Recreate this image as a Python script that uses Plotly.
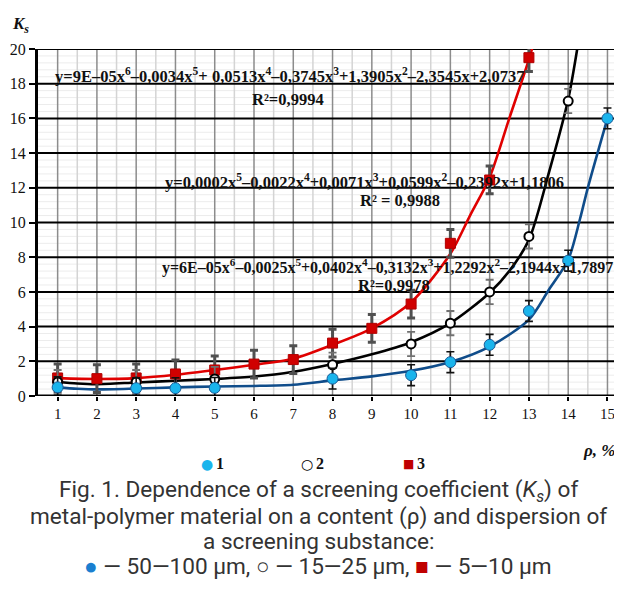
import plotly.graph_objects as go

# ---- data: measured points ----
x_vals = list(range(1, 16))
# series 1: 50-100 um (blue); None where no marker is visible
ks1 = [0.5, None, 0.45, 0.45, 0.47, None, None, 1.0, None, 1.2, 1.95, 2.95, 4.9, 7.8, 16.0]
err1 = [0.6] * 15
# series 2: 15-25 um (black open circles)
ks2 = [0.8, None, 0.8, None, 0.98, None, None, 1.8, None, 3.0, 4.2, 6.0, 9.2, 17.0, None]
err2 = [0.7] * 15
# series 3: 5-10 um (red squares)
ks3 = [1.04, 1.0, 1.04, 1.27, 1.5, 1.84, 2.1, 3.05, 3.9, 5.3, 8.8, 12.45, 19.5, None, None]
err3 = [0.8] * 15

# ---- trend curves, values ----
t1_x = [1, 1.5, 2, 3, 4, 5, 6, 7, 8, 9, 10, 11, 12, 13, 13.5, 14, 14.3, 14.5, 15]
t1_y = [0.5, 0.42, 0.38, 0.43, 0.5, 0.55, 0.58, 0.65, 0.9, 1.13, 1.45, 1.96, 2.85, 4.4, 6.1, 7.85, 10.2, 12.0, 16.0]
t2_x = [1, 1.5, 2, 3, 4, 5, 6, 7, 8, 9, 10, 11, 12, 12.5, 13, 13.5, 14, 14.3]
t2_y = [0.82, 0.72, 0.68, 0.78, 0.88, 0.98, 1.12, 1.4, 1.85, 2.4, 3.1, 4.2, 5.95, 7.2, 9.0, 12.8, 17.1, 21.0]
t3_x = [1, 2, 3, 4, 5, 6, 7, 8, 9, 10, 11, 11.5, 12, 12.5, 13, 13.2]
t3_y = [1.03, 0.98, 1.03, 1.22, 1.5, 1.8, 2.15, 2.95, 3.9, 5.4, 8.2, 10.4, 12.6, 16.0, 19.4, 21.0]

eq1 = "y=6E–05x<sup>6</sup>–0,0025x<sup>5</sup>+0,0402x<sup>4</sup>–0,3132x<sup>3</sup>+1,2292x<sup>2</sup>–2,1944x+1,7897"
r1 = "R²=0,9978"
eq2 = "y=0,0002x<sup>5</sup>–0,0022x<sup>4</sup>+0,0071x<sup>3</sup>+0,0599x<sup>2</sup>–0,2392x+1,1806"
r2 = "R² = 0,9988"
eq3 = "y=9E–05x<sup>6</sup>–0,0034x<sup>5</sup>+ 0,0513x<sup>4</sup>–0,3745x<sup>3</sup>+1,3905x<sup>2</sup>–2,3545x+2,0737"
r3 = "R²=0,9994"

# page body adds an 8px offset; work in screen pixels and subtract it
OFF = 8
W, H = 622 - OFF, 592 - OFF
PL, PR, PT, PB = 38, 622, 49, 396          # plot area in screen pixels
ML, MR, MT, MB = PL - OFF, 622 - PR, PT - OFF, 592 - PB

fig = go.Figure()

for tx, ty, color in [(t1_x, t1_y, "#0f4c8a"), (t2_x, t2_y, "#000000"), (t3_x, t3_y, "#e00000")]:
    fig.add_trace(go.Scatter(x=tx, y=ty, mode="lines", line=dict(color=color, width=2.6, shape="spline", smoothing=0.8),
                             showlegend=False, hoverinfo="skip"))

def pts(vals, errs):
    xs = [x for x, v in zip(x_vals, vals) if v is not None]
    ys = [v for v in vals if v is not None]
    es = [e for e, v in zip(errs, vals) if v is not None]
    return xs, ys, es

xs, ys, es = pts(ks3, err3)
fig.add_trace(go.Scatter(x=xs, y=ys, mode="markers",
                         marker=dict(symbol="square", size=10, color="#d00000", line=dict(color="#b00000", width=1)),
                         error_y=dict(type="data", array=es, color="#505050", thickness=3, width=4),
                         showlegend=False))
xs, ys, es = pts(ks2, err2)
fig.add_trace(go.Scatter(x=xs, y=ys, mode="markers",
                         marker=dict(symbol="circle", size=9, color="white", line=dict(color="black", width=2)),
                         error_y=dict(type="data", array=es, color="#707070", thickness=1.8, width=4),
                         showlegend=False))
xs, ys, es = pts(ks1, err1)
fig.add_trace(go.Scatter(x=xs, y=ys, mode="markers",
                         marker=dict(symbol="circle", size=11, color="#1ab4ec", line=dict(color="#1a5a96", width=1)),
                         error_y=dict(type="data", array=es, color="#111111", thickness=1.6, width=4),
                         showlegend=False))

serif = "Liberation Serif, Times New Roman, serif"

shapes = []
for k in range(1, 51):
    yv = k * 0.4
    if abs(yv / 2 - round(yv / 2)) < 1e-6:
        continue
    shapes.append(dict(type="line", xref="paper", yref="y", x0=0, x1=1, y0=yv, y1=yv,
                       line=dict(color="#ececec", width=1), layer="below"))
for k in range(1, 16):
    shapes.append(dict(type="line", xref="x", yref="paper", x0=k + 0.5, x1=k + 0.5, y0=0, y1=1,
                       line=dict(color="#d4d4d4", width=1.5), layer="below"))
for k in range(1, 16):
    shapes.append(dict(type="line", xref="x", yref="paper", x0=k, x1=k, y0=0, y1=1,
                       line=dict(color="#8c8c8c", width=1.5), layer="below"))
for k in range(1, 11):
    shapes.append(dict(type="line", xref="paper", yref="y", x0=0, x1=1, y0=2 * k, y1=2 * k,
                       line=dict(color="#000000", width=2), layer="below"))
shapes.append(dict(type="line", xref="paper", yref="y", x0=0, x1=1, y0=0, y1=0, line=dict(color="black", width=3)))

fig.update_layout(
    width=W, height=H, margin=dict(l=ML, r=MR, t=MT, b=MB, autoexpand=False),
    paper_bgcolor="white", plot_bgcolor="white",
    shapes=shapes,
    xaxis=dict(range=[0.5, 15.37], tickmode="array", tickvals=x_vals, ticktext=[str(v) for v in x_vals],
               showgrid=False, zeroline=False, showline=False, automargin=False,
               ticks="outside", ticklen=4, tickwidth=2, tickcolor="black",
               tickfont=dict(family=serif, size=15, color="#111")),
    yaxis=dict(range=[0, 20], tickmode="linear", dtick=2, tick0=0, showgrid=False, zeroline=False,
               showline=True, linewidth=3, linecolor="black", automargin=False,
               ticks="outside", ticklen=6, tickwidth=2, tickcolor="black",
               tickfont=dict(family=serif, size=16, color="#111")),
)

ann = []
def px(xp):
    return (xp - PL) / (PR - PL)
def py(yp):
    return (PB - yp) / (PB - PT)

def A(text, x, y, size=14, xanchor="left", bold=True, family=serif, color="#111", italic=False):
    t = text
    if italic:
        t = "<i>" + t + "</i>"
    if bold:
        t = "<b>" + t + "</b>"
    ann.append(dict(text=t, x=px(x), y=py(y), xref="paper", yref="paper", xanchor=xanchor, yanchor="middle",
                    showarrow=False, font=dict(family=family, size=size, color=color)))

A(eq3, 53, 75, size=16.5)
A(r3, 250, 99, size=16.5)
A(eq2, 163, 181, size=16.5)
A(r2, 358, 200, size=16.5)
A(eq1, 160, 266, size=16.0)
A(r1, 356, 285, size=16.5)

A("K<sub>s</sub>", 10, 25, size=17, italic=True)
A("ρ, %", 617, 450, size=17, xanchor="right", italic=True)

# legend
A("●", 207, 464, size=14, xanchor="center", bold=False, family="DejaVu Sans", color="#1ab4ec")
A("1", 214, 464, size=16)
A("○", 307, 464, size=14, xanchor="center", bold=True, family="DejaVu Sans", color="#000")
A("2", 314, 464, size=16)
A("■", 408, 464, size=12, xanchor="center", bold=False, family="DejaVu Sans", color="#c00000")
A("3", 415, 464, size=16)

cap_font = "Roboto, Noto Sans, sans-serif"
cap1 = "Fig. 1. Dependence of a screening coefficient (<i>K<sub>s</sub></i>) of"
cap2 = "metal-polymer material on a content (ρ) and dispersion of"
cap3 = "a screening substance:"
cap4 = ("<span style='color:#1a7fd0'>●</span> — 50—100 μm, <b>○</b> — 15—25 μm, "
        "<span style='color:#c00000'>■</span> — 5—10 μm")
for t, yy in [(cap1, 491), (cap2, 516), (cap3, 541), (cap4, 566)]:
    A(t, 318, yy, size=22.6, xanchor="center", bold=False, family=cap_font, color="#333")

fig.update_layout(annotations=ann)
fig.write_html("out.html")
